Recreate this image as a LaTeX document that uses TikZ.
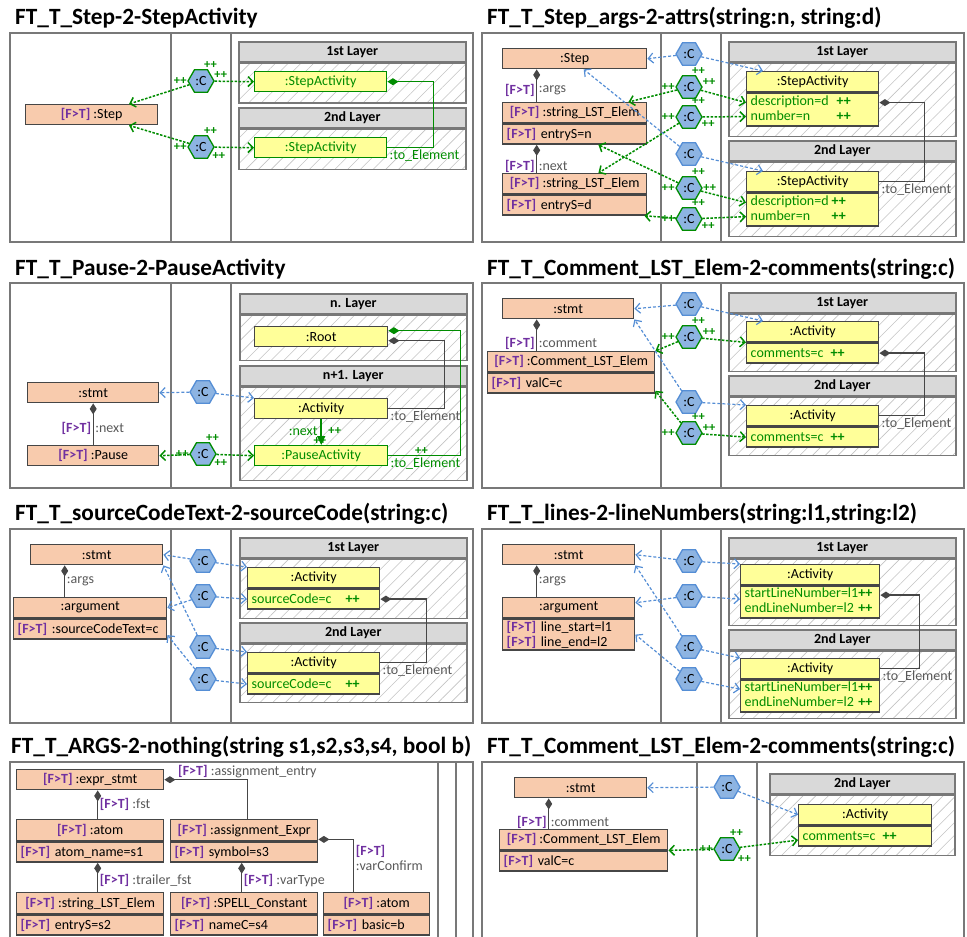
\documentclass[tikz,border=0pt]{standalone}
\usepackage{fontspec}
\setmainfont{Carlito}
\usetikzlibrary{arrows.meta,positioning,shapes.geometric,patterns.meta}
\definecolor{frgray}{RGB}{120,120,120}
\definecolor{headgray}{RGB}{217,217,217}
\definecolor{hatchgray}{RGB}{195,195,195}
\definecolor{boxgray}{RGB}{70,70,70}
\definecolor{srcfill}{RGB}{248,203,173}
\definecolor{tgtfill}{RGB}{255,255,153}
\definecolor{grn}{RGB}{0,140,0}
\definecolor{ftpurple}{RGB}{112,48,160}
\definecolor{lblue}{RGB}{85,142,213}
\definecolor{hexfill}{RGB}{141,180,226}
\definecolor{txtgray}{RGB}{89,89,89}
\newcommand{\fttag}{\textcolor{ftpurple}{\textbf{[F>T]}}}

\begin{document}
\begin{tikzpicture}[x=1pt, y=-1pt,
    font=\fontsize{14}{15}\selectfont,
    frame/.style={draw=frgray, line width=2.2pt},
    ttl/.style={anchor=base west, inner sep=0pt, font=\fontsize{23.3}{26}\selectfont\bfseries},
    lhead/.style={draw=frgray, fill=headgray, line width=1.6pt, anchor=north west,
        minimum width=227, minimum height=20, inner sep=0pt, font=\fontsize{14}{15}\selectfont\bfseries},
    lbody/.style={draw=frgray, line width=1.6pt, anchor=north, minimum width=227, inner sep=0pt,
        pattern={Lines[angle=45,distance=9pt,line width=0.6pt]}, pattern color=hatchgray},
    obj/.style={draw=boxgray, line width=1.4pt, anchor=north west, minimum height=20, inner sep=0pt},
    src/.style={obj, fill=srcfill},
    tgt/.style={obj, fill=tgtfill},
    attr/.style={align=left, inner xsep=4pt, inner ysep=1pt},
    tattr/.style={attr, text=grn},
    newobj/.style={draw=grn, text=grn},
    hx/.style={regular polygon, regular polygon sides=6, minimum size=26, inner sep=0pt,
        fill=hexfill, draw=lblue, line width=1.3pt},
    hxg/.style={hx, draw=grn},
    pl/.style={text=grn, inner sep=0.5pt, font=\fontsize{12.5}{12.5}\selectfont\bfseries},
    crt/.style={label={[pl]78:++}, label={[pl]180:++}, label={[pl]#1:++}},
    bl/.style={draw=lblue, line width=1.2pt, dash pattern=on 3pt off 2pt,
        -{Straight Barb[length=5pt,width=10pt]}},
    gr/.style={draw=grn, line width=1.5pt, dash pattern=on 2.5pt off 1.5pt,
        -{Straight Barb[length=5pt,width=10pt]}},
    comp/.style={draw=boxgray, line width=1.3pt, {Diamond[length=11pt,width=7pt]}-},
    gcomp/.style={comp, draw=grn},
    nxt/.style={draw=grn, line width=1.5pt, -{Triangle[length=9pt,width=8pt]}},
    lbl/.style={text=txtgray, inner sep=1.5pt}
    ]
    \useasboundingbox (0,0) rectangle (967,937);

    % Step -> StepActivity
    \node[ttl] (t1) at (15,24) {FT\_T\_Step-2-StepActivity};
    \draw[frame] (10,33) rectangle (473,242) (171,33) -- (171,242) (231,33) -- (231,242);
    \node[lhead] (p1h1) at (238,41) {1st Layer};
    \node[lbody, minimum height=40, below=0pt of p1h1] (p1b1) {};
    \node[lhead] (p1h2) at (238,107) {2nd Layer};
    \node[lbody, minimum height=40, below=0pt of p1h2] (p1b2) {};
    \node[src, minimum width=132] (p1step) at (25,104) {\fttag{} :Step};
    \node[tgt, newobj, minimum width=132] (p1sa1) at (254,71) {:StepActivity};
    \node[tgt, newobj, minimum width=132] (p1sa2) at (254,137) {:StepActivity};
    \node[hxg, crt=8] (p1c1) at (201,81) {:C};
    \node[hxg, crt=-25] (p1c2) at (201,147) {:C};
    \draw[gr] (p1c1) -- (p1step.16);
    \draw[gr] (p1c1) -- (p1sa1.west);
    \draw[gr] (p1c2) -- (p1step.-16);
    \draw[gr] (p1c2) -- (p1sa2.west);
    \draw[gcomp] (p1sa1.east) -- ++(46,0) |- (p1sa2.east)
        node[lbl, text=grn, anchor=north west] {:to\_Element};

    % Step args -> attributes
    \node[ttl] (t2) at (487,24) {FT\_T\_Step\_args-2-attrs(string:n, string:d)};
    \draw[frame] (482,33) rectangle (964,242) (661,33) -- (661,242) (721,33) -- (721,242);
    \node[lhead] (p2h1) at (728,41) {1st Layer};
    \node[lbody, minimum height=73, below=0pt of p2h1] (p2b1) {};
    \node[lhead] (p2h2) at (728,140) {2nd Layer};
    \node[lbody, minimum height=74, below=0pt of p2h2] (p2b2) {};
    \node[src, minimum width=144] (p2step) at (502,48) {:Step};
    \node[src, minimum width=144] (p2le1) at (502,102) {\fttag{} :string\_LST\_Elem};
    \node[src, attr, text width=136, minimum height=20, below=0pt of p2le1] (p2le1a) {\fttag{} entryS=n};
    \node[src, minimum width=144] (p2le2) at (502,173) {\fttag{} :string\_LST\_Elem};
    \node[src, attr, text width=136, minimum height=20, below=0pt of p2le2] (p2le2a) {\fttag{} entryS=d};
    \node[tgt, minimum width=132] (p2sa1) at (746,71) {:StepActivity};
    \node[tgt, tattr, text width=124, minimum height=33, below=0pt of p2sa1] (p2sa1a)
        {\begin{tabular}{@{}l@{\hspace{8pt}}l@{}}description=d & \textbf{++}\\ number=n & \textbf{++}\end{tabular}};
    \node[tgt, minimum width=132] (p2sa2) at (746,171) {:StepActivity};
    \node[tgt, tattr, text width=124, minimum height=33, below=0pt of p2sa2] (p2sa2a)
        {\begin{tabular}{@{}l@{\hspace{3pt}}l@{}}description=d & \textbf{++}\\ number=n & \textbf{++}\end{tabular}};
    \node[hx] (p2c1) at (689,54) {:C};
    \node[hxg, crt=5] (p2c2) at (689,87) {:C};
    \node[hxg, crt=-12] (p2c3) at (689,117) {:C};
    \node[hx] (p2c4) at (689,154) {:C};
    \node[hxg, crt=0] (p2c5) at (689,188) {:C};
    \node[hxg, crt=-12] (p2c6) at (689,219) {:C};
    \draw[comp] ([xshift=-38pt]p2step.south) -- ([xshift=-38pt]p2le1.north)
        node[pos=0.65, left, inner sep=1.5pt] {\fttag} node[pos=0.65, right, lbl] {:args};
    \draw[comp] ([xshift=-38pt]p2le1a.south) -- ([xshift=-38pt]p2le2.north)
        node[pos=0.75, left, inner sep=1.5pt] {\fttag} node[pos=0.75, right, lbl] {:next};
    \draw[bl] (p2c1) -- (p2step.east);
    \draw[bl] (p2c1) -- ([xshift=17pt]p2sa1.north west);
    \draw[gr] (p2c2) -- ([xshift=-19pt]p2le1.north east);
    \draw[gr] (p2c2) -- ([yshift=7pt]p2sa1a.west);
    \draw[gr] (p2c3) -- ([xshift=-49pt]p2le2.north east);
    \draw[gr] (p2c3) -- ([yshift=-7pt]p2sa1a.west);
    \draw[bl] (p2c4) -- ([xshift=9pt]p2step.south);
    \draw[bl] (p2c4) -- ([xshift=17pt]p2sa2.north west);
    \draw[gr] (p2c5) -- ([xshift=-49pt]p2le1a.south east);
    \draw[gr] (p2c5) -- ([yshift=7pt]p2sa2a.west);
    \draw[gr] (p2c6) -- ([xshift=-3pt]p2le2a.south east);
    \draw[gr] (p2c6) -- ([yshift=-7pt]p2sa2a.west);
    \draw[comp] ([yshift=7pt]p2sa1a.east) -- ++(45,0) |- (p2sa2.east)
        node[lbl, anchor=north west] {:to\_Element};

    % Pause -> PauseActivity
    \node[ttl] (t3) at (15,275) {FT\_T\_Pause-2-PauseActivity};
    \draw[frame] (10,283) rectangle (473,488) (171,283) -- (171,488) (231,283) -- (231,488);
    \node[lhead] (p3h1) at (239,293) {n. Layer};
    \node[lbody, minimum height=45, below=0pt of p3h1] (p3b1) {};
    \node[lhead] (p3h2) at (239,365) {n+1. Layer};
    \node[lbody, minimum height=93, below=0pt of p3h2] (p3b2) {};
    \node[src, minimum width=131] (p3stmt) at (27,382) {:stmt};
    \node[src, minimum width=131] (p3pause) at (27,445) {\fttag{} :Pause};
    \node[tgt, minimum width=133] (p3root) at (254,326) {:Root};
    \node[tgt, minimum width=133] (p3act) at (254,398) {:Activity};
    \node[tgt, newobj, minimum width=133,
        label={[pl, anchor=south east, xshift=-5pt]above right:++}] (p3pact) at (254,445) {:PauseActivity};
    \node[hx] (p3c1) at (203,392) {:C};
    \node[hxg, crt=-25] (p3c2) at (203,454) {:C};
    \draw[comp] (p3stmt) -- (p3pause)
        node[pos=0.59, left, inner sep=1.5pt] {\fttag} node[pos=0.59, right, lbl] {:next};
    \draw[bl] (p3c1) -- (p3stmt.east);
    \draw[bl] (p3c1) -- (p3act.north west);
    \draw[gr] (p3c2) -- (p3pause.east);
    \draw[gr] (p3c2) -- (p3pact.west);
    \draw[nxt] (p3act) -- (p3pact)
        node[pos=0.45, left=3pt, inner sep=0pt, text=grn] {:next}
        node[pos=0.45, right=6pt, pl] {++};
    \draw[comp] ([yshift=-4pt]p3root.east) -- ++(56,0) |- (p3act.east)
        node[lbl, anchor=north west] {:to\_Element};
    \draw[gcomp] ([yshift=6pt]p3root.east) -- ++(72,0) |- (p3pact.east)
        node[pos=0.77, pl, above] {++} node[lbl, text=grn, anchor=north west] {:to\_Element};

    % Comment_LST_Elem -> comments
    \node[ttl] (t4) at (487,275) {FT\_T\_Comment\_LST\_Elem-2-comments(string:c)};
    \draw[frame] (482,283) rectangle (964,488) (661,283) -- (661,488) (721,283) -- (721,488);
    \node[lhead] (p4h1) at (728,292) {1st Layer};
    \node[lbody, minimum height=57, below=0pt of p4h1] (p4b1) {};
    \node[lhead] (p4h2) at (728,375) {2nd Layer};
    \node[lbody, minimum height=58, below=0pt of p4h2] (p4b2) {};
    \node[src, minimum width=131] (p4stmt) at (502,298) {:stmt};
    \node[src, minimum width=167] (p4cle) at (487,351) {\fttag{} :Comment\_LST\_Elem};
    \node[src, attr, text width=159, minimum height=20, below=0pt of p4cle] (p4clea) {\fttag{} valC=c};
    \node[tgt, minimum width=132] (p4a1) at (746,321) {:Activity};
    \node[tgt, tattr, text width=124, minimum height=20, below=0pt of p4a1] (p4a1a) {comments=c\enspace\textbf{++}};
    \node[tgt, minimum width=132] (p4a2) at (746,405) {:Activity};
    \node[tgt, tattr, text width=124, minimum height=20, below=0pt of p4a2] (p4a2a) {comments=c\enspace\textbf{++}};
    \node[hx] (p4c1) at (689,304) {:C};
    \node[hxg, crt=5] (p4c2) at (689,337) {:C};
    \node[hx] (p4c3) at (689,402) {:C};
    \node[hxg, crt=5] (p4c4) at (689,433) {:C};
    \draw[comp] ([xshift=-31.5pt]p4stmt.south) -- ([xshift=-34.5pt]p4cle.north)
        node[pos=0.76, left, inner sep=1.5pt] {\fttag} node[pos=0.76, right, lbl] {:comment};
    \draw[bl] (p4c1) -- (p4stmt.east);
    \draw[bl] (p4c1) -- ([xshift=17pt]p4a1.north west);
    \draw[gr] (p4c2) -- (p4cle.north east);
    \draw[gr] (p4c2) -- (p4a1.south west);
    \draw[bl] (p4c3) -- (p4stmt.south east);
    \draw[bl] (p4c3) -- (p4a2.north west);
    \draw[gr] (p4c4) -- ([yshift=3pt]p4clea.south east);
    \draw[gr] (p4c4) -- (p4a2a.west);
    \draw[comp] (p4a1a.east) -- ++(45,0) |- (p4a2.east)
        node[lbl, anchor=north west] {:to\_Element};

    % sourceCodeText -> sourceCode
    \node[ttl] (t5) at (15,520) {FT\_T\_sourceCodeText-2-sourceCode(string:c)};
    \draw[frame] (10,529) rectangle (473,723) (171,529) -- (171,723) (231,529) -- (231,723);
    \node[lhead] (p5h1) at (239,537) {1st Layer};
    \node[lbody, minimum height=59, below=0pt of p5h1] (p5b1) {};
    \node[lhead] (p5h2) at (239,622) {2nd Layer};
    \node[lbody, minimum height=58, below=0pt of p5h2] (p5b2) {};
    \node[src, minimum width=132] (p5stmt) at (30,544) {:stmt};
    \node[src, minimum width=153] (p5arg) at (13,597) {:argument};
    \node[src, attr, text width=145, minimum height=20, below=0pt of p5arg] (p5arga) {\fttag{} :sourceCodeText=c};
    \node[tgt, minimum width=132] (p5a1) at (247,567) {:Activity};
    \node[tgt, tattr, text width=124, minimum height=20, below=0pt of p5a1] (p5a1a) {sourceCode=c\quad\textbf{++}};
    \node[tgt, minimum width=132] (p5a2) at (247,652) {:Activity};
    \node[tgt, tattr, text width=124, minimum height=20, below=0pt of p5a2] (p5a2a) {sourceCode=c\quad\textbf{++}};
    \node[hx] (p5c1) at (203,561) {:C};
    \node[hx] (p5c2) at (203,596) {:C};
    \node[hx] (p5c3) at (203,647) {:C};
    \node[hx] (p5c4) at (203,679) {:C};
    \draw[comp] ([xshift=-32pt]p5stmt.south) -- ([xshift=-25.5pt]p5arg.north)
        node[midway, right, lbl] {:args};
    \draw[bl] (p5c1) -- (p5stmt.east);
    \draw[bl] (p5c1) -- (p5a1.north west);
    \draw[bl] (p5c2) -- (p5arg.east);
    \draw[bl] (p5c2) -- (p5a1a.west);
    \draw[bl] (p5c3) -- (p5stmt.south east);
    \draw[bl] (p5c3) -- (p5a2.north west);
    \draw[bl] (p5c4) -- ([yshift=-6pt]p5arga.east);
    \draw[bl] (p5c4) -- (p5a2a.west);
    \draw[comp] (p5a1a.east) -- ++(46,0) |- (p5a2.east)
        node[lbl, anchor=north west] {:to\_Element};

    % lines -> lineNumbers
    \node[ttl] (t6) at (487,520) {FT\_T\_lines-2-lineNumbers(string:l1,string:l2)};
    \draw[frame] (482,529) rectangle (964,723) (661,529) -- (661,723) (721,529) -- (721,723);
    \node[lhead] (p6h1) at (728,537) {1st Layer};
    \node[lbody, minimum height=66, below=0pt of p6h1] (p6b1) {};
    \node[lhead] (p6h2) at (728,629) {2nd Layer};
    \node[lbody, minimum height=67, below=0pt of p6h2] (p6b2) {};
    \node[src, minimum width=132] (p6stmt) at (502,544) {:stmt};
    \node[src, minimum width=132] (p6arg) at (502,597) {:argument};
    \node[src, attr, text width=124, minimum height=31, below=0pt of p6arg] (p6arga)
        {\fttag{} line\_start=l1\\\fttag{} line\_end=l2};
    \node[tgt, minimum width=139] (p6a1) at (740,564) {:Activity};
    \node[tgt, tattr, text width=131, minimum height=32, below=0pt of p6a1] (p6a1a)
        {\begin{tabular}{@{}l@{}l@{}}startLineNumber=l1 & \textbf{++}\\ endLineNumber=l2 & \textbf{++}\end{tabular}};
    \node[tgt, minimum width=139] (p6a2) at (740,658) {:Activity};
    \node[tgt, tattr, text width=131, minimum height=32, below=0pt of p6a2] (p6a2a)
        {\begin{tabular}{@{}l@{}l@{}}startLineNumber=l1 & \textbf{++}\\ endLineNumber=l2 & \textbf{++}\end{tabular}};
    \node[hx] (p6c1) at (689,561) {:C};
    \node[hx] (p6c2) at (689,596) {:C};
    \node[hx] (p6c3) at (689,647) {:C};
    \node[hx] (p6c4) at (689,679) {:C};
    \draw[comp] ([xshift=-32pt]p6stmt.south) -- ([xshift=-32pt]p6arg.north)
        node[midway, right, lbl] {:args};
    \draw[bl] (p6c1) -- (p6stmt.east);
    \draw[bl] (p6c1) -- (p6a1.north west);
    \draw[bl] (p6c2) -- ([yshift=5pt]p6arg.east);
    \draw[bl] (p6c2) -- ([yshift=3pt]p6a1a.west);
    \draw[bl] (p6c3) -- (p6stmt.south east);
    \draw[bl] (p6c3) -- (p6a2.north west);
    \draw[bl] (p6c4) -- (p6arga.east);
    \draw[bl] (p6c4) -- ([yshift=7pt]p6a2a.west);
    \draw[comp] ([yshift=7pt]p6a1a.east) -- ++(39,0) |- (p6a2.east)
        node[lbl, anchor=north west] {:to\_Element};

    % ARGS -> nothing
    \node[ttl] (t7) at (11,753) {FT\_T\_ARGS-2-nothing(string s1,s2,s3,s4, bool b)};
    \draw[frame] (10,937) |- (473,762) -- (473,937) (438,762) -- (438,937) (456,762) -- (456,937);
    \node[src, minimum width=147] (p7es) at (16,769) {\fttag{} :expr\_stmt};
    \node[src, minimum width=147, minimum height=21] (p7at) at (16,819) {\fttag{} :atom};
    \node[src, attr, text width=139, minimum height=20, below=0pt of p7at] (p7ata) {\fttag{} atom\_name=s1};
    \node[src, minimum width=147, minimum height=21] (p7ae) at (170,819) {\fttag{} :assignment\_Expr};
    \node[src, attr, text width=139, minimum height=20, below=0pt of p7ae] (p7aea) {\fttag{} symbol=s3};
    \node[src, minimum width=147, minimum height=21] (p7sl) at (16,892) {\fttag{} :string\_LST\_Elem};
    \node[src, attr, text width=139, minimum height=20, below=0pt of p7sl] (p7sla) {\fttag{} entryS=s2};
    \node[src, minimum width=147, minimum height=21] (p7sc) at (170,892) {\fttag{} :SPELL\_Constant};
    \node[src, attr, text width=139, minimum height=20, below=0pt of p7sc] (p7sca) {\fttag{} nameC=s4};
    \node[src, minimum width=106, minimum height=21] (p7ab) at (323,892) {\fttag{} :atom};
    \node[src, attr, text width=98, minimum height=20, below=0pt of p7ab] (p7aba) {\fttag{} basic=b};
    \draw[comp] ([xshift=7.5pt]p7es.south) -- ([xshift=7.5pt]p7at.north)
        node[midway, right, lbl] {\fttag{} :fst};
    \draw[comp] (p7es.east) -| ([xshift=3.5pt]p7ae.north)
        node[pos=0.07, anchor=south west, lbl] {\fttag{} :assignment\_entry};
    \draw[comp] ([xshift=7.5pt]p7ata.south) -- ([xshift=7.5pt]p7sl.north)
        node[pos=0.6, right, lbl] {\fttag{} :trailer\_fst};
    \draw[comp] ([xshift=-2.5pt]p7aea.south) -- ([xshift=-2.5pt]p7sc.north)
        node[pos=0.6, right, lbl] {\fttag{} :varType};
    \draw[comp] ([yshift=2pt]p7ae.south east) -| ([xshift=-23pt]p7ab.north)
        node[pos=0.68, right, lbl, align=left] {\fttag\\:varConfirm};

    % Comment_LST_Elem -> comments, 2nd layer only
    \node[ttl] (t8) at (487,753) {FT\_T\_Comment\_LST\_Elem-2-comments(string:c)};
    \draw[frame] (482,937) |- (964,762) -- (964,937) (697,762) -- (697,937) (757,762) -- (757,937);
    \node[lhead, minimum width=185] (p8h) at (769,773) {2nd Layer};
    \node[lbody, minimum width=185, minimum height=60, below=0pt of p8h] (p8b) {};
    \node[src, minimum width=132] (p8stmt) at (514,777) {:stmt};
    \node[src, minimum width=168] (p8cle) at (499,829) {\fttag{} :Comment\_LST\_Elem};
    \node[src, attr, text width=160, minimum height=20, below=0pt of p8cle] (p8clea) {\fttag{} valC=c};
    \node[tgt, minimum width=133] (p8a) at (798,804) {:Activity};
    \node[tgt, tattr, text width=125, minimum height=20, below=0pt of p8a] (p8aa) {comments=c\enspace\textbf{++}};
    \node[hx] (p8c1) at (727,787) {:C};
    \node[hxg, crt=-28] (p8c2) at (727,849) {:C};
    \draw[comp] ([xshift=-32pt]p8stmt.south) -- ([xshift=-35pt]p8cle.north)
        node[pos=0.79, left, inner sep=1.5pt] {\fttag} node[pos=0.79, right, lbl] {:comment};
    \draw[bl] (p8c1) -- (p8stmt.east);
    \draw[bl] (p8c1) -- (p8a.west);
    \draw[gr] (p8c2) -- (p8cle.south east);
    \draw[gr] (p8c2) -- ([yshift=-4pt]p8aa.west);
\end{tikzpicture}
\end{document}
